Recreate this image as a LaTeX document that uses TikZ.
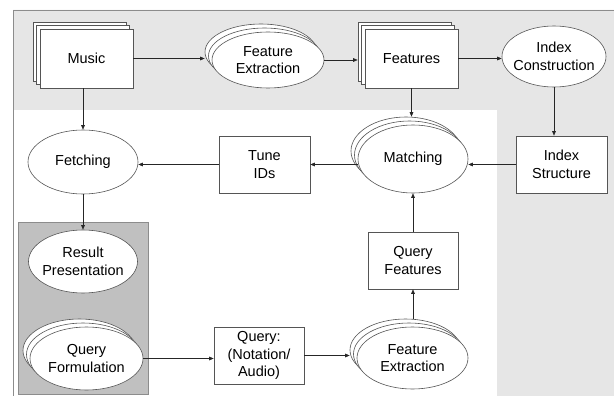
\documentclass[tikz,border=0pt]{standalone}
\usepackage{fontspec}
\setmainfont{Liberation Sans}
\usetikzlibrary{arrows.meta,shapes.geometric}
\definecolor{bglight}{HTML}{E6E6E6}
\definecolor{bgdark}{HTML}{C0C0C0}
\definecolor{edgec}{HTML}{555555}
\definecolor{framec}{HTML}{8C8C8C}
\begin{document}
\begin{tikzpicture}[x=1pt,y=-1pt,
  every node/.style={font=\fontsize{14.5}{17.5}\selectfont, align=center, inner sep=0pt},
  rectnode/.style={rectangle, draw=edgec, fill=white, line width=0.6pt},
  ellnode/.style={ellipse, draw=edgec, fill=white, line width=0.6pt, inner xsep=-8pt, inner ysep=0pt},
  arr/.style={draw=black!85, line width=0.6pt, -{Triangle[length=4.5pt,width=3.6pt]}}]
\useasboundingbox (0,0) rectangle (614,396);
\fill[white] (0,0) rectangle (614,396);
% background regions
\fill[bglight] (13,10) -- (614,10) -- (614,396) -- (497,396) -- (497,110) -- (13,110) -- cycle;
\draw[framec, line width=0.8pt] (614,10) -- (13,10) -- (13,396);
\draw[fill=bgdark, draw=framec, line width=0.8pt] (18,222) rectangle (148,394);

% Music stack
\node[rectnode, minimum width=93, minimum height=59] (musicc) at (79.5,51.5) {};
\node[rectnode, minimum width=93, minimum height=59] (musicb) at (83,55) {};
\node[rectnode, minimum width=93, minimum height=59] (music) at (86.5,58.5) {Music};

% Feature Extraction (top) stack
\node[ellnode, minimum width=112, minimum height=56] (fe1c) at (261,52) {};
\node[ellnode, minimum width=112, minimum height=56] (fe1b) at (264.5,56) {};
\node[ellnode, minimum width=112, minimum height=56] (fe1) at (268,60) {Feature\\Extraction};

% Features stack
\node[rectnode, minimum width=93, minimum height=59] (featc) at (404.5,51.5) {};
\node[rectnode, minimum width=93, minimum height=59] (featb) at (408,55) {};
\node[rectnode, minimum width=93, minimum height=59] (feat) at (411.5,58.5) {Features};

% Index Construction
\node[ellnode, minimum width=104, minimum height=61] (ic) at (554,56.5) {Index\\Construction};

% Fetching
\node[ellnode, minimum width=110, minimum height=64] (fetch) at (83,162) {Fetching};

% Tune IDs
\node[rectnode, minimum width=91, minimum height=57] (tune) at (264.5,164.5) {Tune\\IDs};

% Matching stack
\node[ellnode, minimum width=110, minimum height=68] (matchc) at (406,151) {};
\node[ellnode, minimum width=110, minimum height=68] (matchb) at (409.5,155) {};
\node[ellnode, minimum width=110, minimum height=68] (match) at (413,159) {Matching};

% Index Structure
\node[rectnode, minimum width=91, minimum height=57] (is) at (561.5,164.5) {Index\\Structure};

% Query Features
\node[rectnode, minimum width=90, minimum height=57] (qf) at (413,260.5) {Query\\Features};

% Result Presentation
\node[ellnode, minimum width=109, minimum height=63] (result) at (83,261.5) {Result\\Presentation};

% Query Formulation stack
\node[ellnode, minimum width=113, minimum height=63] (qformc) at (79.5,350.5) {};
\node[ellnode, minimum width=113, minimum height=63] (qformb) at (83,354.5) {};
\node[ellnode, minimum width=113, minimum height=63] (qform) at (86.5,358.5) {Query\\Formulation};

% Query box
\node[rectnode, minimum width=90, minimum height=57] (query) at (259,355.5) {Query:\\(Notation/\\Audio)};

% Feature Extraction (bottom) stack
\node[ellnode, minimum width=111, minimum height=62] (fe2c) at (405.5,350) {};
\node[ellnode, minimum width=111, minimum height=62] (fe2b) at (409,354) {};
\node[ellnode, minimum width=111, minimum height=62] (fe2) at (412.5,358) {Feature\\Extraction};

% connectors
\draw[arr] (music.east) -- (music.east -| fe1c.west);
\draw[arr] (fe1.east) -- (fe1.east -| featc.west);
\draw[arr] (feat.east) -- (feat.east -| ic.west);
\draw[arr] (fetch.north |- music.south) -- (fetch.north);
\draw[arr] (feat.south) -- (feat.south |- matchc.north);
\draw[arr] (ic.south) -- (ic.south |- is.north);
\draw[arr] (is.west) -- (is.west -| match.east);
\draw[arr] (tune.east -| match.west) -- (tune.east);
\draw[arr] (tune.west) -- (tune.west -| fetch.east);
\draw[arr] (fetch.south) -- (result.north);
\draw[arr] (qform.east) -- (qform.east -| query.west);
\draw[arr] (query.east) -- (query.east -| fe2c.west);
\draw[arr] (qf.south |- fe2c.north) -- (qf.south);
\draw[arr] (qf.north) -- (qf.north |- match.south);
\end{tikzpicture}
\end{document}
